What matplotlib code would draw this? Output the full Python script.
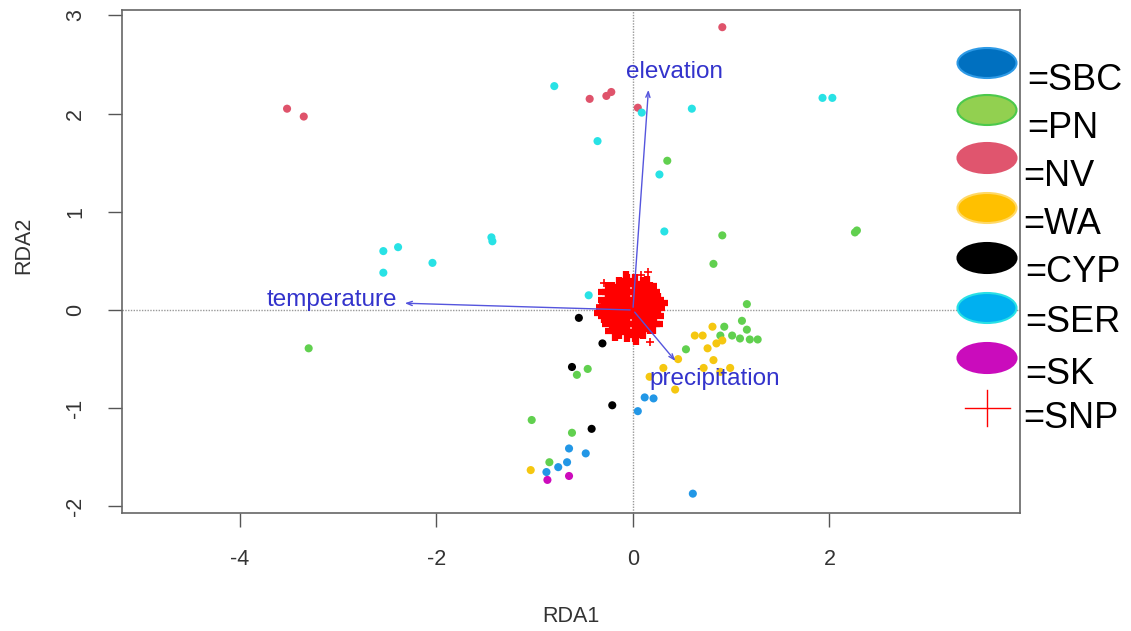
#RDA biplot of populations, SNPs and climate variables
import matplotlib.pyplot as plt
from matplotlib.patches import Ellipse

plt.rcParams['font.family'] = ['Liberation Sans', 'DejaVu Sans']

#site scores (RDA1, RDA2) for each population
sbc_x = [0.12, 0.21, 0.05, -0.65, -0.48, -0.67, -0.76, -0.88, 0.61]
sbc_y = [-0.89, -0.90, -1.03, -1.41, -1.46, -1.55, -1.60, -1.65, -1.87]

pn_x = [0.35, 0.91, 0.82, 2.28, 2.26, -3.30, 1.16, 1.11, 0.93, 1.16, 1.01, 1.09, 1.19, 1.27,
        0.89, 0.54, -0.46, -0.57, -1.03, -0.62, -0.85]
pn_y = [1.52, 0.76, 0.47, 0.81, 0.79, -0.39, 0.06, -0.11, -0.17, -0.20, -0.26, -0.29, -0.30, -0.30,
        -0.26, -0.40, -0.60, -0.66, -1.12, -1.25, -1.55]

nv_x = [-3.52, -3.35, 0.91, -0.44, -0.27, -0.22, 0.05]
nv_y = [2.05, 1.97, 2.88, 2.15, 2.18, 2.22, 2.06]

wa_x = [0.81, 0.63, 0.71, 0.76, 0.85, 0.91, 0.46, 0.82, 0.31, 0.72, 0.89, 0.99, 0.17, 0.43, -1.04]
wa_y = [-0.17, -0.26, -0.26, -0.39, -0.34, -0.31, -0.50, -0.51, -0.59, -0.59, -0.63, -0.59, -0.68, -0.81, -1.63]

cyp_x = [-0.55, -0.31, -0.62, -0.21, -0.42]
cyp_y = [-0.08, -0.34, -0.58, -0.97, -1.21]

ser_x = [-0.80, 0.09, 0.60, -0.36, 0.27, 0.32, 1.93, 2.03, -0.45, -2.54, -2.39, -2.04, -2.54, -1.44, -1.43]
ser_y = [2.28, 2.01, 2.05, 1.72, 1.38, 0.80, 2.16, 2.16, 0.15, 0.60, 0.64, 0.48, 0.38, 0.74, 0.70]

sk_x = [-0.87, -0.65]
sk_y = [-1.73, -1.69]

#SNP scores (dense cloud around the origin)
snp_x = [-0.02, 0.07, 0.025, -0.065, -0.11, -0.065, 0.025,
         0.144, 0.100, 0.024, -0.064, -0.140, -0.184, -0.184, -0.140, -0.064, 0.024, 0.100, 0.144,
         0.23, 0.215, 0.172, 0.105, 0.024, -0.064, -0.145, -0.212, -0.255, -0.27, -0.255, -0.212,
         -0.145, -0.064, 0.024, 0.105, 0.172, 0.215,
         0.255, 0.140, -0.069, -0.249, -0.295, -0.180, 0.029, 0.209]
snp_y = [0.02, 0.02, 0.10, 0.10, 0.02, -0.06, -0.06,
         0.064, 0.140, 0.184, 0.184, 0.140, 0.064, -0.024, -0.100, -0.144, -0.144, -0.100, -0.024,
         0.02, 0.106, 0.181, 0.237, 0.266, 0.266, 0.237, 0.181, 0.106, 0.02, -0.066, -0.141,
         -0.197, -0.226, -0.226, -0.197, -0.141, -0.066,
         0.069, 0.249, 0.295, 0.180, -0.029, -0.209, -0.255, -0.140]
#a few outlying SNPs at the edge of the cloud
snp_out_x = [0.15, 0.17, -0.29, 0.08, -0.33]
snp_out_y = [0.39, -0.33, 0.27, 0.36, 0.05]

#environmental vectors
env_names = ['temperature', 'elevation', 'precipitation']
env_x = [-2.35, 0.16, 0.45]
env_y = [0.07, 2.27, -0.54]

groups = [(sbc_x, sbc_y, '#2297E6'), (pn_x, pn_y, '#61D04F'), (nv_x, nv_y, '#DF536B'),
          (wa_x, wa_y, '#F5C710'), (cyp_x, cyp_y, 'black'), (ser_x, ser_y, '#28E2E5'),
          (sk_x, sk_y, '#CD0BBC')]

fig = plt.figure(figsize=(11.31, 6.31), dpi=100)
ax = fig.add_axes([122/1131, 1 - 513/631, (1020 - 122)/1131, (513 - 10)/631])

ax.axhline(0, color='#999999', lw=1, ls=(0, (1, 1)), zorder=1)
ax.axvline(0, color='#999999', lw=1, ls=(0, (1, 1)), zorder=1)

for gx, gy, col in groups:
    ax.scatter(gx, gy, s=34, color=col, edgecolors='none', zorder=2)

ax.plot(snp_x, snp_y, ls='none', marker='+', ms=14, mew=4.5, color='red', zorder=3)
ax.plot(snp_out_x, snp_out_y, ls='none', marker='+', ms=6, mew=1.2, color='red', zorder=3)

#arrows and labels
label_pos = {'temperature': (-2.40, 0.10, 'right'),
             'elevation': (0.42, 2.42, 'center'),
             'precipitation': (0.83, -0.70, 'center')}
for name, ex, ey in zip(env_names, env_x, env_y):
    ax.annotate('', xy=(ex, ey), xytext=(0, 0),
                arrowprops=dict(arrowstyle='->,head_length=0.4,head_width=0.15',
                                color='#5555dd', lw=1), zorder=4)
    lx, ly, ha = label_pos[name]
    ax.text(lx, ly, name, color='#3333cc', fontsize=17.5, ha=ha, va='center', zorder=5)

ax.set_xlim(-5.20, 3.94)
ax.set_ylim(-2.067, 3.055)
ax.set_xticks([-4, -2, 0, 2])
ax.set_yticks([-2, -1, 0, 1, 2, 3])
ax.set_xticklabels(['-4', '-2', '0', '2'])
ax.set_yticklabels(['-2', '-1', '0', '1', '2', '3'], rotation=90, va='center')
ax.tick_params(length=10, width=1, color='#555555', labelcolor='#333333', labelsize=15.5)
ax.tick_params(axis='x', pad=16)
ax.tick_params(axis='y', pad=16)
for sp in ax.spines.values():
    sp.set_color('#666666')
    sp.set_linewidth(1.2)

fig.text(571/1131, 1 - 617/631, 'RDA1', fontsize=15.5, color='#333333', ha='center', va='center')
fig.text(24/1131, 1 - 245/631, 'RDA2', fontsize=15.5, color='#333333', ha='center', va='center',
         rotation=90)

#hand-made legend on the right
leg = fig.add_axes([0, 0, 1, 1], facecolor='none')
leg.set_xlim(0, 1131)
leg.set_ylim(631, 0)
leg.axis('off')

leg_names = ['=SBC', '=PN', '=NV', '=WA', '=CYP', '=SER', '=SK', '=SNP']
leg_fill = ['#0070C0', '#92D050', '#E0556E', '#FFC000', 'black', '#00B0F0', '#CA0CBC']
leg_edge = ['#2E9AE6', '#4CC94C', '#E0556E', '#FFD966', 'black', '#29E0E6', '#CA0CBC']
ell_y = [63, 110, 158, 208, 258, 308, 358]
txt_x = [1027, 1027, 1023, 1023, 1025, 1025, 1025, 1023]
txt_y = [80, 128, 177, 225, 272, 323, 375, 418]

for fc, ec, ey in zip(leg_fill, leg_edge, ell_y):
    leg.add_patch(Ellipse((987, ey), 59, 30, facecolor=fc, edgecolor=ec, lw=1.5))
leg.plot([965, 1010], [408, 408], color='red', lw=1)
leg.plot([987, 987], [390, 426], color='red', lw=1)
for name, tx, ty in zip(leg_names, txt_x, txt_y):
    leg.text(tx, ty, name, fontsize=26, color='black', ha='left', va='center')

plt.savefig('out.png', dpi=100)
